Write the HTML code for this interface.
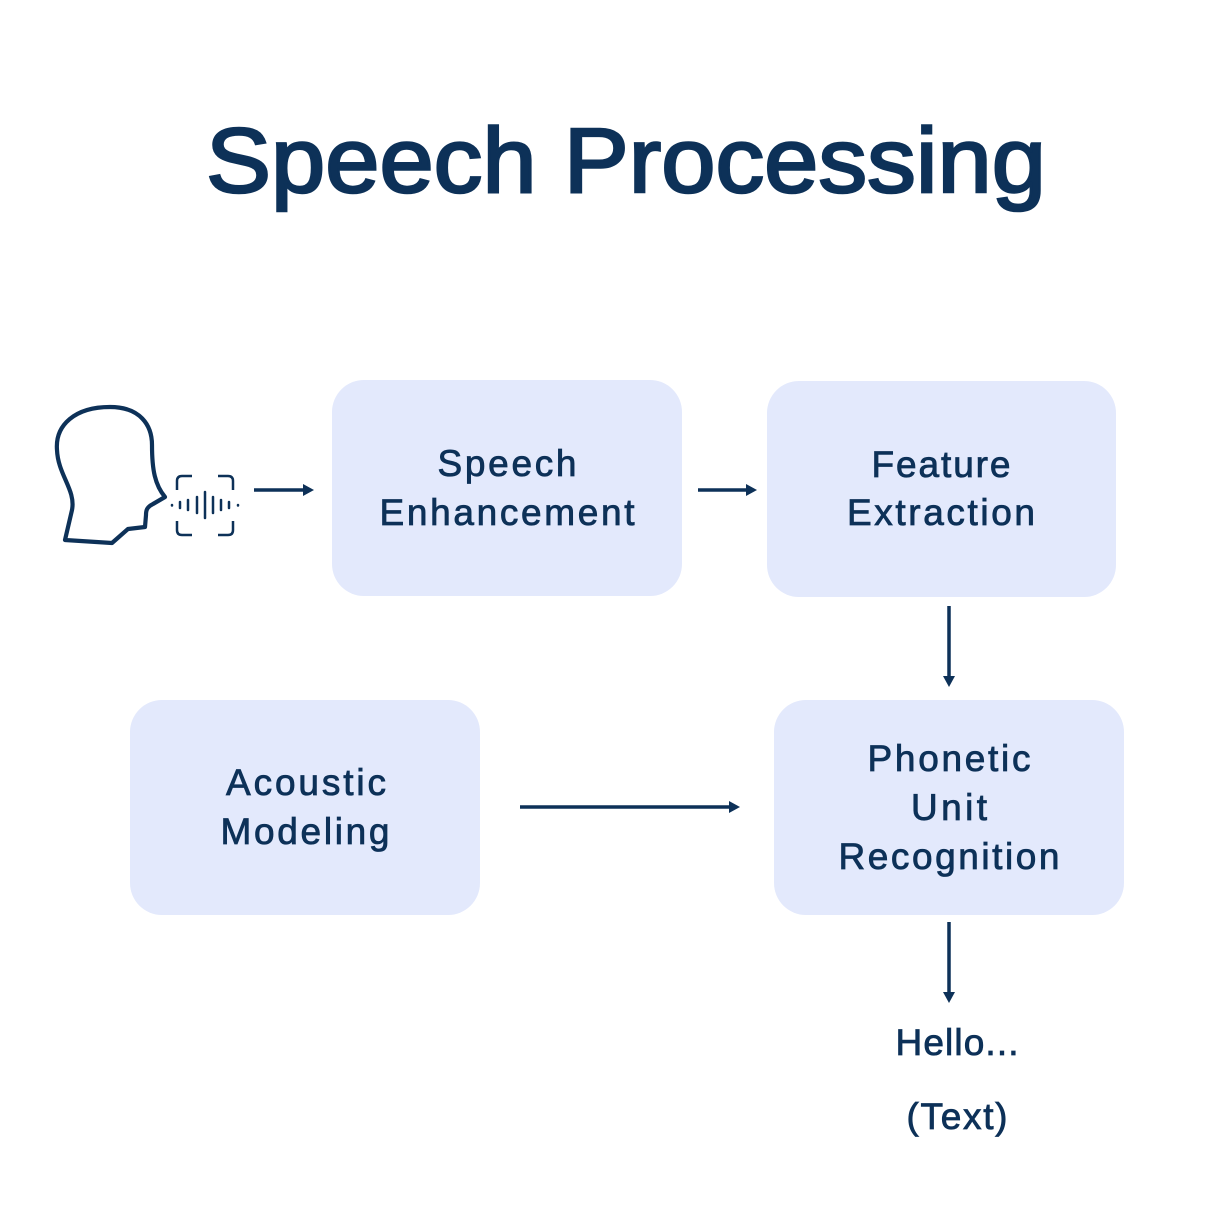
<!DOCTYPE html>
<html><head><style>body{margin:0;background:#fff}</style></head><body>
<svg width="1205" height="1205" viewBox="0 0 1205 1205" xmlns="http://www.w3.org/2000/svg" font-family="Liberation Sans, sans-serif" fill="#0d3158">
<text x="626" y="192" font-size="92" text-anchor="middle" textLength="840" lengthAdjust="spacingAndGlyphs" stroke="#0d3158" stroke-width="2.5">Speech Processing</text>
<g fill="#e3e9fc">
<rect x="332" y="380" width="350" height="216" rx="32"/>
<rect x="767" y="381" width="349" height="216" rx="32"/>
<rect x="130" y="700" width="350" height="215" rx="32"/>
<rect x="774" y="700" width="350" height="215" rx="32"/>
</g>
<g font-size="37" text-anchor="middle" stroke="#0d3158" stroke-width="0.8" lengthAdjust="spacingAndGlyphs">
<text x="507" y="476" textLength="139">Speech</text>
<text x="507" y="525" textLength="255">Enhancement</text>
<text x="941" y="477" textLength="139">Feature</text>
<text x="941" y="525" textLength="188">Extraction</text>
<text x="306" y="795" textLength="160">Acoustic</text>
<text x="305" y="844" textLength="169">Modeling</text>
<text x="949" y="771" textLength="163">Phonetic</text>
<text x="949" y="820" textLength="76">Unit</text>
<text x="949" y="869" textLength="221">Recognition</text>
<text x="957" y="1055" textLength="123">Hello...</text>
<text x="957" y="1129" textLength="101">(Text)</text>
</g>
<g stroke="#0d3158" stroke-width="3.5" fill="none">
<path d="M254,490H305M698,490H748M949,606V678M520,807H731M949,922V995"/>
<path d="M65,540 L72,510 C76,490 58,475 57,450 C55,425 75,407 110,407 C140,407 152,425 152,445 C152,470 155,485 165,497 L153,504 C147,507 146,510 146,515 L145,527 L128,529 L112,543 Z" stroke-width="4.2" stroke-linejoin="round"/>
<path d="M177,490V481Q177,476 182,476H192M218,476H228Q233,476 233,481V490M233,521V530Q233,535 228,535H218M192,535H182Q177,535 177,530V521" stroke-width="2.5"/>
<path d="M172,505V505.5M180,502V508M188,500V510M197,497V513M205,492V518M213,497V513M221,500V510M229,502V508M238,505V505.5" stroke-width="2.5" stroke-linecap="round"/>
</g>
<g>
<polygon points="314,490 303,484 303,496"/>
<polygon points="757,490 746,484 746,496"/>
<polygon points="949,687 943,676 955,676"/>
<polygon points="740,807 729,801 729,813"/>
<polygon points="949,1003 943,992 955,992"/>
</g>
</svg>
</body></html>
